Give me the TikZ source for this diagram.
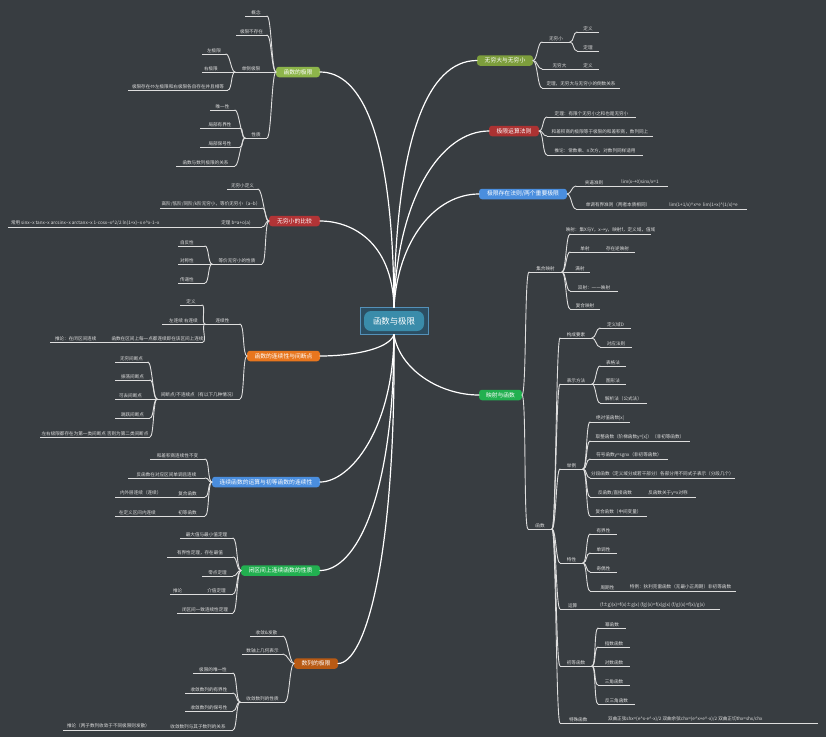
\documentclass[tikz,border=0pt]{standalone}
\usepackage{fontspec}
\setmainfont{Noto Sans CJK SC}
\definecolor{bg}{RGB}{56,61,65}
\definecolor{ln}{RGB}{222,222,222}
\definecolor{tx}{RGB}{222,222,222}
\definecolor{cA}{RGB}{141,181,74}
\definecolor{cB}{RGB}{178,52,54}
\definecolor{cC}{RGB}{232,118,30}
\definecolor{cD}{RGB}{74,142,222}
\definecolor{cE}{RGB}{34,176,80}
\definecolor{cF}{RGB}{184,90,20}
\definecolor{cG}{RGB}{125,158,60}
\definecolor{cH}{RGB}{172,50,50}
\definecolor{cI}{RGB}{74,142,222}
\definecolor{cJ}{RGB}{34,176,80}
\definecolor{cIn}{RGB}{58,140,170}
\definecolor{cOut}{RGB}{44,78,98}
\definecolor{cOutB}{RGB}{84,145,185}
\tikzset{
  leaf/.style={anchor=south, inner xsep=0pt, inner ysep=1.6pt, outer sep=0pt, text=tx, font=\fontsize{4.6}{5.2}\selectfont},
  uline/.style={draw=ln, line width=0.95pt},
  conn/.style={draw=ln, line width=0.9pt, line cap=round},
  mconn/.style={draw=white, line width=1.2pt, line cap=round},
  mainnode/.style={rectangle, rounded corners=3pt, minimum height=10.5pt, inner sep=0pt, outer sep=0pt, text=white, font=\fontsize{5.8}{6.5}\selectfont},
}
\newcommand\mmleaf[6][c]{%
  \node[leaf] (#2) at ({(#3+#4)/2},#5) {\makebox[\dimexpr#4pt-#3pt\relax][#1]{#6}};%
  \draw[uline] (#2.south west) -- (#2.south east);}
\newcommand\mmL[2]{\draw[conn] (#1.south west) .. controls +(-4,0) and +(4,0) .. (#2.south east);}
\newcommand\mmR[2]{\draw[conn] (#1.south east) .. controls +(4,0) and +(-4,0) .. (#2.south west);}
\newcommand\mmML[2]{\draw[conn] (#1.west) .. controls +(-4.5,0) and +(4.5,0) .. (#2.south east);}
\newcommand\mmMR[2]{\draw[conn] (#1.east) .. controls +(4.5,0) and +(-4.5,0) .. (#2.south west);}
\begin{document}
\begin{tikzpicture}[x=1pt,y=-1pt]
\fill[bg] (0,0) rectangle (826,737);
\useasboundingbox (0,0) rectangle (826,737);

% central
\node[rectangle, draw=cOutB, fill=cOut, line width=0.6pt, minimum width=68pt, minimum height=27pt, inner sep=0pt] (cbox) at (394,321) {};
\node[rectangle, rounded corners=7pt, fill=cIn, minimum width=60pt, minimum height=20pt, inner sep=0pt, text=white, font=\fontsize{8.4}{9}\selectfont] (c) at (394,321) {函数与极限};

% main nodes
\node[mainnode, fill=cA, minimum width=44pt] (A) at (298,72) {函数的极限};
\node[mainnode, fill=cB, minimum width=51pt] (B) at (294.5,221) {无穷小的比较};
\node[mainnode, fill=cC, minimum width=73pt] (C) at (283.5,356) {函数的连续性与间断点};
\node[mainnode, fill=cD, minimum width=108pt] (D) at (266,482) {连续函数的运算与初等函数的连续性};
\node[mainnode, fill=cE, minimum width=79pt] (E) at (280.5,570.5) {闭区间上连续函数的性质};
\node[mainnode, fill=cF, minimum width=44pt] (F) at (316,663.5) {数列的极限};
\node[mainnode, fill=cG, minimum width=56pt] (G) at (505,60.5) {无穷大与无穷小};
\node[mainnode, fill=cH, minimum width=50pt] (H) at (514,131) {极限运算法则};
\node[mainnode, fill=cI, minimum width=88pt] (I) at (523,194) {极限存在法则/两个重要极限};
\node[mainnode, fill=cJ, minimum width=43pt] (J) at (500.5,395) {映射与函数};

% main connectors
\draw[mconn] (cbox.north) .. controls (396,140) and (427,60.5) .. (G.west);
\draw[mconn] (cbox.north) .. controls (397,200) and (440,131) .. (H.west);
\draw[mconn] (cbox.north) .. controls (398,240) and (435,194) .. (I.west);
\draw[mconn] (cbox.north) .. controls (393,130) and (360,72) .. (A.east);
\draw[mconn] (cbox.north) .. controls (392,240) and (350,221) .. (B.east);
\draw[mconn] (cbox.south) .. controls (388,350) and (350,356) .. (C.east);
\draw[mconn] (cbox.south) .. controls (393,430) and (350,482) .. (D.east);
\draw[mconn] (cbox.south) .. controls (394,500) and (355,570.5) .. (E.east);
\draw[mconn] (cbox.south) .. controls (396,560) and (365,663.5) .. (F.east);
\draw[mconn] (cbox.south) .. controls (400,370) and (440,395) .. (J.west);

% ---------- A 函数的极限
\mmleaf{A1}{245}{267}{16}{概念}
\mmleaf{A2}{236}{267}{35}{极限不存在}
\mmleaf{A3}{235}{267}{72}{单侧极限}
\mmleaf{A31}{202}{226}{54}{左极限}
\mmleaf[l]{A32}{202}{235}{72}{\hspace*{2pt}右极限}
\mmleaf{A33}{128}{228}{90}{极限存在⇔左极限和右极限各自存在并且相等}
\mmleaf{A4}{245}{267}{138}{性质}
\mmleaf{A41}{210}{235}{110}{唯一性}
\mmleaf{A42}{200}{240}{128}{局部有界性}
\mmleaf{A43}{200}{240}{147}{局部保号性}
\mmleaf{A44}{176}{235}{166}{函数与数列极限的关系}
\mmML{A}{A1}\mmML{A}{A2}\mmML{A}{A3}\mmML{A}{A4}
\mmL{A3}{A31}\mmL{A3}{A32}\mmL{A3}{A33}
\mmL{A4}{A41}\mmL{A4}{A42}\mmL{A4}{A43}\mmL{A4}{A44}

% ---------- B 无穷小的比较
\mmleaf{B1}{227}{258}{189}{无穷小定义}
\mmleaf{B2}{160}{262}{208}{高阶/低阶/同阶/k阶无穷小，等价无穷小（a\textasciitilde b）}
\mmleaf{B3}{210}{262}{227}{定理 b=a+o(a)}
\mmleaf[l]{B31}{8}{210}{227}{\hspace*{3pt}常用 sinx\textasciitilde x tanx\textasciitilde x arcsinx\textasciitilde x arctanx\textasciitilde x 1-cosx\textasciitilde x\textasciicircum 2/2 ln(1+x)\textasciitilde x e\textasciicircum x-1\textasciitilde x}
\mmleaf{B4}{212}{262}{264}{等价无穷小的性质}
\mmleaf[l]{B41}{178}{205}{246}{\hspace*{2pt}自反性}
\mmleaf[l]{B42}{178}{212}{264}{\hspace*{2pt}对称性}
\mmleaf[l]{B43}{178}{205}{283}{\hspace*{2pt}传递性}
\mmML{B}{B1}\mmML{B}{B2}\mmML{B}{B3}\mmML{B}{B4}
\mmL{B3}{B31}
\mmL{B4}{B41}\mmL{B4}{B42}\mmL{B4}{B43}

% ---------- C 函数的连续性与间断点
\mmleaf{C1}{205}{240}{324}{连续性}
\mmleaf{C11}{180}{202}{305}{定义}
\mmleaf{C12}{162}{205}{324}{左连续 右连续}
\mmleaf{C13}{112}{203}{342}{函数在区间上每一点都连续即在该区间上连续}
\mmleaf[l]{C131}{50}{112}{342}{\hspace*{5pt}推论：在闭区间连续}
\mmleaf{C2}{157}{240}{399}{间断点/不连续点（有以下几种情况）}
\mmleaf{C21}{115}{148}{362}{无穷间断点}
\mmleaf{C22}{115}{150}{380}{振荡间断点}
\mmleaf[l]{C23}{115}{157}{399}{\hspace*{4pt}可去间断点}
\mmleaf{C24}{115}{150}{418}{跳跃间断点}
\mmleaf{C25}{40}{150}{437}{左右极限都存在为第一类间断点 否则为第二类间断点}
\mmML{C}{C1}\mmML{C}{C2}
\mmL{C1}{C11}\mmL{C1}{C12}\mmL{C1}{C13}\mmL{C13}{C131}
\mmL{C2}{C21}\mmL{C2}{C22}\mmL{C2}{C23}\mmL{C2}{C24}\mmL{C2}{C25}

% ---------- D 连续函数的运算与初等函数的连续性
\mmleaf{D1}{150}{205}{459}{和差积商连续性不变}
\mmleaf{D2}{128}{205}{478}{反函数在对应区间单调且连续}
\mmleaf{D3}{170}{205}{497}{复合函数}
\mmleaf[l]{D31}{115}{170}{497}{\hspace*{5pt}内外层连续（连续）}
\mmleaf{D4}{170}{205}{516}{初等函数}
\mmleaf[l]{D41}{115}{170}{516}{\hspace*{4pt}在定义区间内连续}
\mmML{D}{D1}\mmML{D}{D2}\mmML{D}{D3}\mmML{D}{D4}
\mmL{D3}{D31}\mmL{D4}{D41}

% ---------- E 闭区间上连续函数的性质
\mmleaf{E1}{180}{233}{538}{最大值与最小值定理}
\mmleaf{E2}{167}{233}{557}{有界性定理，存在最值}
\mmleaf{E3}{202}{233}{576}{零点定理}
\mmleaf{E4}{200}{233}{594}{介值定理}
\mmleaf[l]{E41}{170}{200}{594}{\hspace*{3pt}推论}
\mmleaf{E5}{177}{233}{613}{闭区间一致连续性定理}
\mmML{E}{E1}\mmML{E}{E2}\mmML{E}{E3}\mmML{E}{E4}\mmML{E}{E5}
\mmL{E4}{E41}

% ---------- F 数列的极限
\mmleaf{F1}{250}{283}{636}{收敛\&发散}
\mmleaf{F2}{242}{283}{654}{数轴上几何表示}
\mmleaf{F3}{240}{285}{702}{收敛数列的性质}
\mmleaf{F31}{193}{233}{673}{极限的唯一性}
\mmleaf{F32}{185}{233}{693}{收敛数列的有界性}
\mmleaf{F33}{185}{233}{711}{收敛数列的保号性}
\mmleaf{F34}{163}{233}{730}{收敛数列与其子数列的关系}
\mmleaf[l]{F341}{63}{163}{730}{\hspace*{4pt}推论（两子数列收敛于不同极限则发散）}
\mmML{F}{F1}\mmML{F}{F2}\mmML{F}{F3}
\mmL{F3}{F31}\mmL{F3}{F32}\mmL{F3}{F33}\mmL{F3}{F34}\mmL{F34}{F341}

% ---------- G 无穷大与无穷小
\mmleaf{G1}{542}{570}{42}{无穷小}
\mmleaf{G11}{577}{599}{32}{定义}
\mmleaf{G12}{577}{599}{51}{定理}
\mmleaf{G2}{542}{577}{69}{无穷大}
\mmleaf{G21}{577}{599}{69}{定义}
\mmleaf{G3}{542}{620}{88}{定理，无穷大与无穷小的倒数关系}
\mmMR{G}{G1}\mmMR{G}{G2}\mmMR{G}{G3}
\mmR{G1}{G11}\mmR{G1}{G12}\mmR{G2}{G21}

% ---------- H 极限运算法则
\mmleaf{H1}{547}{636}{117}{定理：有限个无穷小之和也是无穷小}
\mmleaf{H2}{547}{653}{136}{和差积商的极限等于极限的和差积商，数列同上}
\mmleaf{H3}{547}{643}{155}{推论：常数乘、n次方，对数列同样适用}
\mmMR{H}{H1}\mmMR{H}{H2}\mmMR{H}{H3}

% ---------- I 极限存在法则/两个重要极限
\mmleaf{I1}{576}{612}{186}{夹逼准则}
\mmleaf{I11}{612}{668}{186}{lim(x→0)sinx/x=1}
\mmleaf{I2}{576}{660}{209}{单调有界准则（两者本质相同）}
\mmleaf{I21}{660}{747}{209}{lim(1+1/x)\textasciicircum x=e \ lim(1+x)\textasciicircum(1/x)=e}
\mmMR{I}{I1}\mmMR{I}{I2}
\mmR{I1}{I11}\mmR{I2}{I21}

% ---------- J 映射与函数
\mmleaf{J1}{529}{562}{272}{集合映射}
\mmleaf{J11}{570}{651}{234}{映射：集X与Y，x→y，映射f，定义域，值域}
\mmleaf{J12}{570}{600}{252}{单射}
\mmleaf{J121}{600}{635}{252}{存在逆映射}
\mmleaf{J13}{570}{590}{272}{满射}
\mmleaf{J14}{570}{618}{291}{双射：一一映射}
\mmleaf{J15}{570}{600}{309}{复合映射}
\mmleaf{J2}{528}{552}{529}{函数}
\mmleaf{J21}{560}{592}{338}{构成要素}
\mmleaf{J211}{600}{631}{328}{定义域D}
\mmleaf{J212}{600}{632}{347}{对应法则}
\mmleaf{J22}{560}{592}{384}{表示方法}
\mmleaf{J221}{600}{626}{366}{表格法}
\mmleaf{J222}{600}{626}{384}{图形法}
\mmleaf{J223}{600}{647}{403}{解析法（公式法）}
\mmleaf{J23}{560}{583}{469}{举例}
\mmleaf{J231}{590}{630}{422}{绝对值函数|x|}
\mmleaf{J232}{590}{690}{441}{取整函数（阶梯函数y=[x]）（非初等函数）}
\mmleaf{J233}{590}{668}{459}{符号函数y=sgnx（非初等函数）}
\mmleaf{J234}{590}{735}{478}{分段函数（定义域分成若干部分）各部分用不同式子表示（分段几个）}
\mmleaf{J235}{590}{640}{497}{反函数/直接函数}
\mmleaf{J2351}{640}{696}{497}{反函数关于y=x对称}
\mmleaf{J236}{590}{647}{516}{复合函数（中间变量）}
\mmleaf{J24}{560}{583}{563}{特性}
\mmleaf{J241}{590}{617}{534}{有界性}
\mmleaf{J242}{590}{617}{553}{单调性}
\mmleaf{J243}{590}{617}{572}{奇偶性}
\mmleaf{J244}{590}{625}{591}{周期性}
\mmleaf{J2441}{625}{736}{591}{特例：狄利克雷函数（无最小正周期）非初等函数}
\mmleaf[l]{J25}{560}{595}{609}{\hspace*{8pt}运算}
\mmleaf[l]{J251}{595}{720}{609}{\hspace*{5pt}(f±g)(x)=f(x)±g(x) (fg)(x)=f(x)g(x) (f/g)(x)=f(x)/g(x)}
\mmleaf{J26}{560}{592}{666}{初等函数}
\mmleaf{J261}{598}{626}{628}{幂函数}
\mmleaf{J262}{598}{630}{647}{指数函数}
\mmleaf{J263}{598}{630}{666}{对数函数}
\mmleaf{J264}{598}{630}{685}{三角函数}
\mmleaf{J265}{598}{635}{704}{反三角函数}
\mmleaf[l]{J27}{560}{600}{723}{\hspace*{9pt}特殊函数}
\mmleaf[l]{J271}{600}{818}{723}{\hspace*{8pt}双曲正弦shx=(e\textasciicircum x-e\textasciicircum -x)/2 双曲余弦chx=(e\textasciicircum x+e\textasciicircum -x)/2 双曲正切thx=shx/chx}
\mmMR{J}{J1}\mmMR{J}{J2}
\mmR{J1}{J11}\mmR{J1}{J12}\mmR{J1}{J13}\mmR{J1}{J14}\mmR{J1}{J15}\mmR{J12}{J121}
\mmR{J2}{J21}\mmR{J2}{J22}\mmR{J2}{J23}\mmR{J2}{J24}\mmR{J2}{J25}\mmR{J2}{J26}\mmR{J2}{J27}
\mmR{J21}{J211}\mmR{J21}{J212}
\mmR{J22}{J221}\mmR{J22}{J222}\mmR{J22}{J223}
\mmR{J23}{J231}\mmR{J23}{J232}\mmR{J23}{J233}\mmR{J23}{J234}\mmR{J23}{J235}\mmR{J23}{J236}\mmR{J235}{J2351}
\mmR{J24}{J241}\mmR{J24}{J242}\mmR{J24}{J243}\mmR{J24}{J244}\mmR{J244}{J2441}
\mmR{J25}{J251}
\mmR{J26}{J261}\mmR{J26}{J262}\mmR{J26}{J263}\mmR{J26}{J264}\mmR{J26}{J265}
\mmR{J27}{J271}
\end{tikzpicture}
\end{document}
